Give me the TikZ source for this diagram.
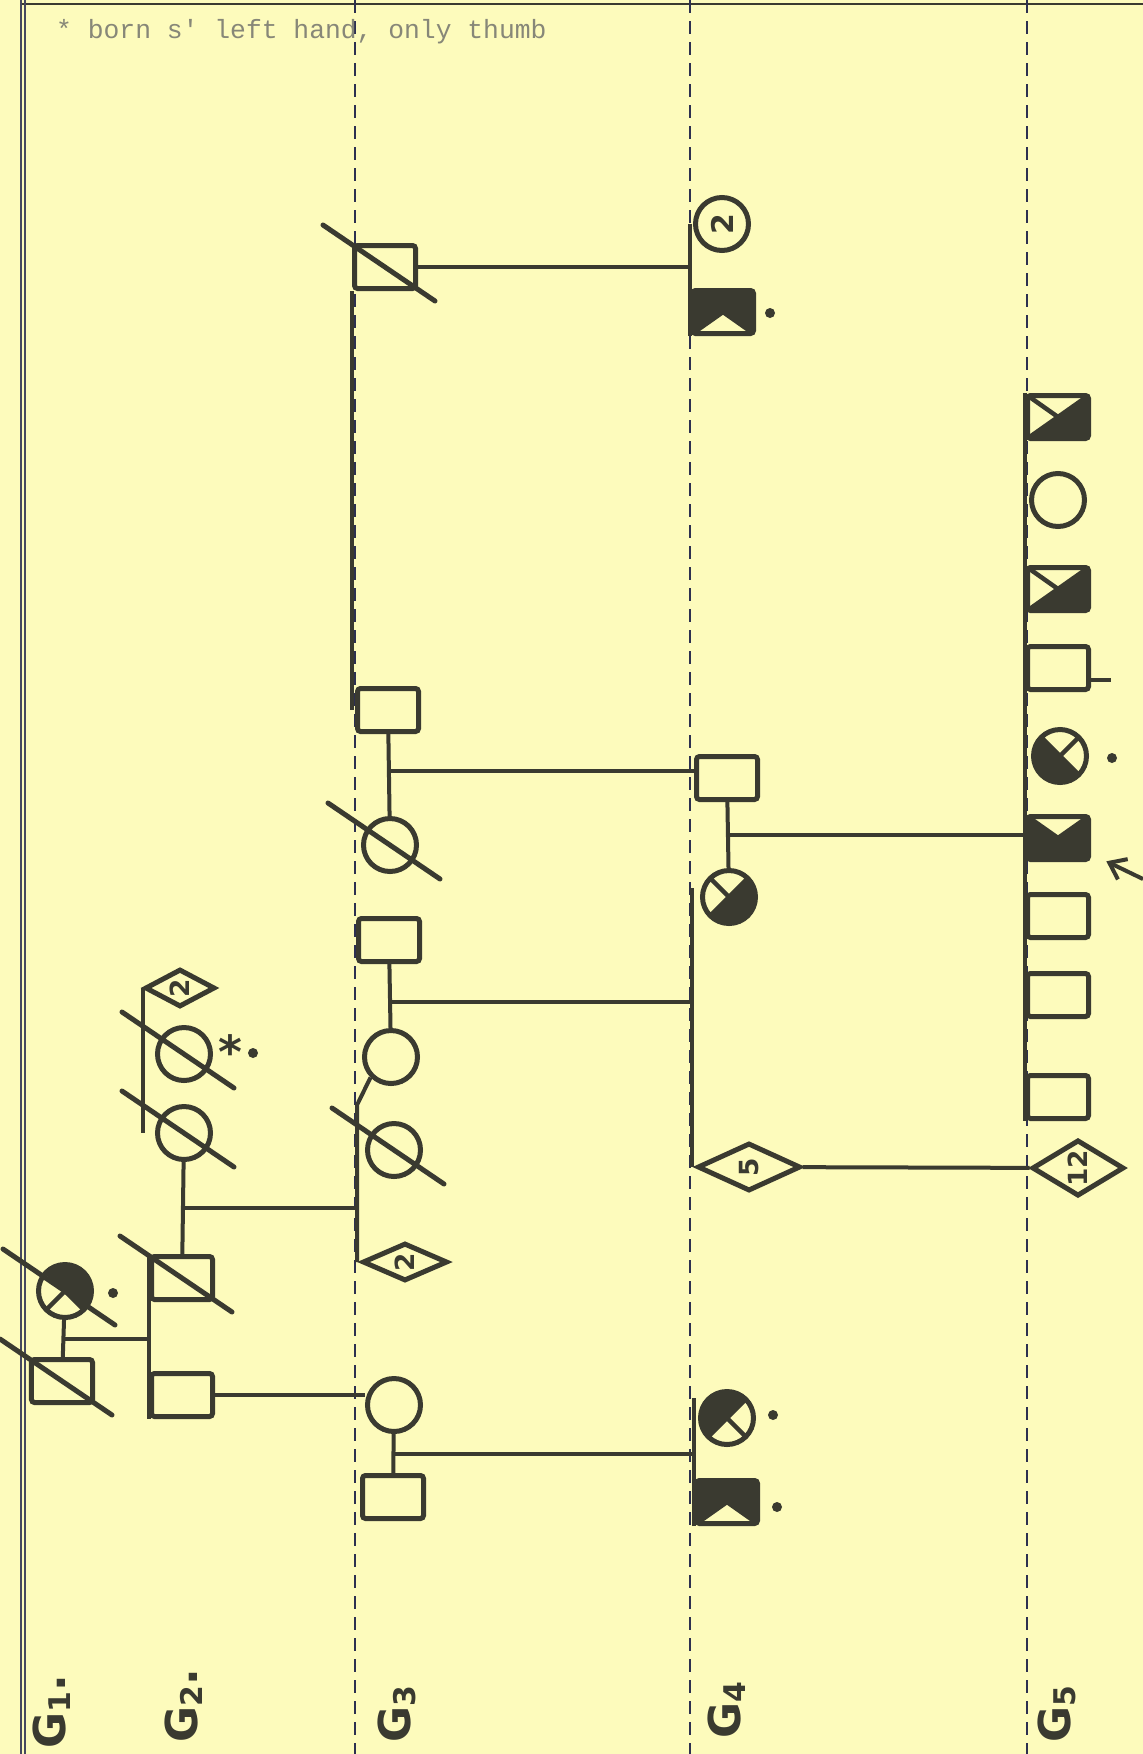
\documentclass[tikz,border=0pt]{standalone}
\usepackage{fontspec}
\setsansfont{DejaVu Sans}
\setmonofont{Liberation Mono}
\usepackage{tikz}
\definecolor{papier}{RGB}{253,251,188}
\definecolor{tinte}{RGB}{58,58,48}
\definecolor{strichblau}{RGB}{45,48,80}
\definecolor{notizgrau}{RGB}{135,135,120}
\usetikzlibrary{shapes.geometric, arrows.meta, calc}
\newcommand{\gnr}[1]{G\raisebox{-0.12em}{\fontsize{17}{17}\selectfont #1}}

\begin{document}
\begin{tikzpicture}[x=0.2mm, y=-0.2mm,
		>={Straight Barb[length=3mm,width=4.5mm]},   %Pfeilspitze
		linie/.style={tinte, line width=0.8mm},
		sym/.style={draw=tinte, line width=1mm, fill=papier, inner sep=0pt, text=tinte},
		mann/.style={sym, rectangle, rounded corners=0.6mm, minimum width=12.2mm, minimum height=8.6mm},
		frau/.style={sym, circle, minimum size=10.6mm},
		unbek/.style={sym, diamond, font=\sffamily\bfseries\fontsize{15}{15}\selectfont},
		kreuz/.style={path picture={
			\foreach \a/\b in {#1}
				\fill[tinte] (path picture bounding box.center) -- (path picture bounding box.\a) -- (path picture bounding box.\b) -- cycle;
			\draw[tinte, line width=0.9mm] (path picture bounding box.north west) -- (path picture bounding box.south east)
				(path picture bounding box.north east) -- (path picture bounding box.south west);}},
		strich/.style={tinte, line width=1mm, line cap=round},
		punkt/.style={circle, fill=tinte, inner sep=0pt, minimum size=2mm},
		gen/.style={rotate=90, text=tinte, font=\sffamily\bfseries\fontsize{25}{25}\selectfont},
		trenn/.style={strichblau, line width=0.45mm, dash pattern=on 2.6mm off 1.6mm}]
		%Blatt
		\useasboundingbox (0,0) rectangle (1143,1754);
		\fill[papier] (0,0) rectangle (1143,1754);
		\draw[tinte, line width=0.5mm] (20,4) -- (1143,4);
		\draw[strichblau!70!gray, line width=0.5mm] (21,0) -- (21,1754);
		\draw[strichblau!70!gray, line width=0.3mm] (25,0) -- (25,1754);
		% Generationen trennen
		\foreach \x in {355,690,1027} \draw[trenn] (\x,0) -- (\x,1754);
		\node[anchor=west, font=\ttfamily\fontsize{15}{18}\selectfont, text=notizgrau] (notiz) at (50,32) {* born s' left hand, only thumb};
		% Beschriftung der Generationen
		\node[gen] (gen1) at (52,1712) {\gnr{1}.};
		\node[gen] (gen2) at (184,1706) {\gnr{2}.};
		\node[gen] (gen3) at (397,1714) {\gnr{3}};
		\node[gen] (gen4) at (727,1710) {\gnr{4}};
		\node[gen] (gen5) at (1057,1714) {\gnr{5}};
		% G1
		\node[frau, kreuz={north east/south east, north west/north east}] (g1f) at (65,1291) {};
		\node[mann] (g1m) at (62,1381) {};
		\node[punkt] (g1fp) at (113,1293) {};
		% G2
		\node[unbek, minimum width=14mm, minimum height=6.4mm] (g2d) at (180,988) {\rotatebox{90}{2}};
		\node[frau] (g2s) at (184,1054) {};
		\node[font=\sffamily\bfseries\fontsize{26}{26}\selectfont, text=tinte] (g2stern) at (230,1052) {*};
		\node[punkt] (g2sp) at (253,1053) {};
		\node[frau] (g2p) at (184,1133) {};
		\node[mann] (g2b) at (182,1278) {};
		\node[mann] (g2c) at (182,1395) {};
		% G3
		\node[mann] (g3a) at (385,267) {};
		\node[mann] (g3e) at (388,710) {};
		\node[frau] (g3f) at (390,845) {};
		\node[mann] (g3b) at (389,940) {};
		\node[frau] (g3c) at (391,1057) {};
		\node[frau] (g3d) at (394,1150) {};
		\node[unbek, minimum width=17mm, minimum height=7mm] (g3u) at (405,1262) {\rotatebox{90}{2}};
		\node[frau] (g3h) at (394,1405) {};
		\node[mann] (g3i) at (393,1497) {};
		\coordinate (g3top) at (357,1105);
		% G4
		\node[frau, font=\sffamily\bfseries\fontsize{17}{17}\selectfont] (g4j) at (722,224) {\rotatebox{90}{2}};
		\node[mann, kreuz={north west/south west, north east/south east, north west/north east}] (g4k) at (723,312) {};
		\node[punkt] (g4kp) at (770,313) {};
		\node[mann] (g4g) at (727,778) {};
		\node[frau, kreuz={south west/south east, north east/south east}] (g4l) at (729,897) {};
		\node[unbek, minimum width=20.6mm, minimum height=9.6mm] (g4m) at (749,1167) {\rotatebox{90}{5}};
		\node[frau, kreuz={north west/south west, north west/north east}] (g4o) at (727,1418) {};
		\node[punkt] (g4op) at (773,1415) {};
		\node[mann, kreuz={north west/south west, north east/south east, north west/north east}] (g4p) at (727,1502) {};
		\node[punkt] (g4pp) at (777,1507) {};
		\coordinate (g4top) at (692,888);
		% G5
		\node[mann, kreuz={north east/south east, south west/south east}] (g5a) at (1058,417) {};
		\node[frau] (g5b) at (1058,500) {};
		\node[mann, kreuz={north east/south east, south west/south east}] (g5c) at (1058,589) {};
		\node[mann] (g5d) at (1058,668) {};
		\node[frau, kreuz={south west/south east, north west/south west}] (g5e) at (1060,756) {};
		\node[punkt] (g5ep) at (1112,758) {};
		\node[mann, kreuz={north west/south west, north east/south east, south west/south east}] (g5f) at (1058,838) {};
		\node[mann] (g5g) at (1058,916) {};
		\node[mann] (g5h) at (1058,995) {};
		\node[mann] (g5i) at (1058,1097) {};
		\node[unbek, minimum width=18.4mm, minimum height=8.6mm] (g5n) at (1078,1168) {\rotatebox{90}{12}};
		\coordinate (pfeil) at (1143,879);
		%Verstorbene
		\foreach \n in {g1f,g1m,g2s,g2p,g2b,g3a,g3f,g3d}
			\draw[strich] ([shift={(-12.4mm,8.4mm)}]\n.center) -- ([shift={(10mm,-6.8mm)}]\n.center);
		%Linien
		\draw[linie] (g1f) -- coordinate (g1e) (g1m);
		\draw[linie] (g1e) -- (g1e -| g2b.west);
		\draw[linie] (g2b.north west) -- (g2c.south west);
		\draw[linie] (g2d.west) -- (g2d.west |- g2p);
		\draw[linie] (g2p) -- coordinate (g2e) (g2b);
		\draw[linie] (g2e) -- (g2e -| g3top);
		\draw[linie] (g2c) -- (g2c -| g3h.west);
		\draw[linie] (g3c.south west) -- (g3top) -- (g3top |- g3u.west);
		\draw[linie] (g3a.south west) -- (g3a.south west |- g3e.west);
		\draw[linie] (g3a) -- (g3a -| g4k.west);
		\draw[linie] (g3e) -- coordinate[pos=0.45] (g3ef) (g3f);
		\draw[linie] (g3ef) -- (g3ef -| g4g.west);
		\draw[linie] (g3b) -- coordinate[pos=0.6] (g3bc) (g3c);
		\draw[linie] (g3bc) -- (g3bc -| g4top);
		\draw[linie] (g3h) -- coordinate (g3hi) (g3i);
		\draw[linie] (g3hi) -- (g3hi -| g4p.west);
		\draw[linie] (g4k.south west) -- (g4k.south west |- g4j);
		\draw[linie] (g4top) -- (g4top |- g4m.west);
		\draw[linie] (g4m) -- (g5n);
		\draw[linie] (g4p.south west) -- (g4p.south west |- g4o.north west);
		\draw[linie] (g4g) -- coordinate (g4gl) (g4l);
		\draw[linie] (g4gl) -- (g4gl -| g5a.west);
		\draw[linie] (g5a.north west) -- (g5a.north west |- g5i.south west);
		\draw[linie] ([yshift=-2.4mm]g5d.east) -- ++(20,0);
		\draw[linie, ->] (pfeil) -- (g5f) [shorten >=3.4mm];
	\end{tikzpicture}
\end{document}
